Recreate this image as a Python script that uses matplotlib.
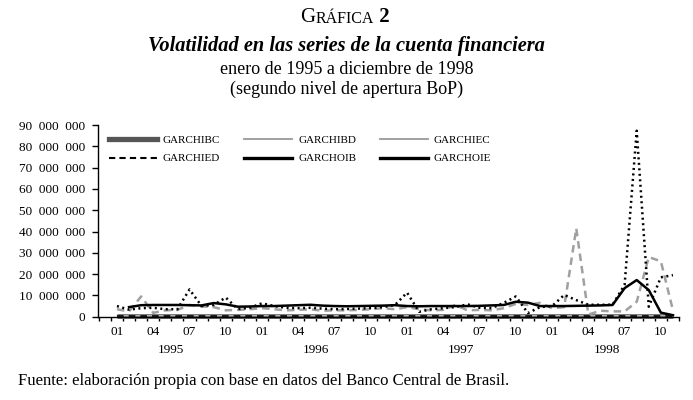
import numpy as np
import matplotlib
matplotlib.use("Agg")
import matplotlib.pyplot as plt
from matplotlib.lines import Line2D

plt.rcParams['font.family'] = ['Liberation Serif', 'DejaVu Serif']

# months from 01/1995 on, values in millions
month_labels = ['01', '04', '07', '10'] * 4
years = ['1995', '1996', '1997', '1998']
yticks = [0, 10, 20, 30, 40, 50, 60, 70, 80, 90]

garchibc = [0.4, 0.4, 0.4, 0.4, 0.4, 0.4, 0.4, 0.4, 0.4, 0.4, 0.4, 0.4,
            0.4, 0.4, 0.4, 0.4, 0.4, 0.4, 0.4, 0.4, 0.4, 0.4, 0.4, 0.4,
            0.4, 0.4, 0.4, 0.4, 0.4, 0.4, 0.4, 0.4, 0.4, 0.4, 0.4, 0.4,
            0.4, 0.4, 0.4, 0.4, 0.4, 0.4, 0.4, 0.4, 0.4, 0.4, 0.4]
garchibd = [0.9, 0.9, 0.9, 0.9, 0.9, 0.9, 0.9, 0.9, 0.9, 0.9, 0.9, 0.9,
            0.9, 0.9, 0.9, 0.9, 0.9, 0.9, 0.9, 0.9, 0.9, 0.9, 0.9, 0.9,
            0.9, 0.9, 0.9, 0.9, 0.9, 0.9, 0.9, 0.9, 0.9, 0.9, 0.9, 0.9,
            0.9, 0.9, 0.9, 0.9, 0.9, 0.9, 0.9, 0.9, 0.9, 0.9, 0.9]
garchied = [0.2, 0.2, 0.2, 0.2, 0.2, 0.2, 0.2, 0.2, 0.2, 0.2, 0.2, 0.2,
            0.2, 0.2, 0.2, 0.2, 0.2, 0.2, 0.2, 0.2, 0.2, 0.2, 0.2, 0.2,
            0.2, 0.2, 0.2, 0.2, 0.2, 0.2, 0.2, 0.2, 0.2, 0.2, 0.2, 0.2,
            0.2, 0.2, 0.2, 0.2, 0.2, 0.2, 0.2, 0.2, 0.2, 0.2, 0.2]
garchiec = [3.5, 2.5, 9.5, 1.8, 3.0, 3.2, 5.5, 4.8, 4.5, 3.0, 3.2, 3.5,
            4.0, 3.5, 3.0, 3.2, 3.5, 2.8, 3.0, 3.0, 3.2, 3.5, 4.0, 3.5,
            4.5, 3.5, 3.0, 3.2, 5.5, 3.0, 3.2, 3.0, 4.0, 6.0, 5.5, 6.5,
            4.0, 4.5, 41.5, 1.0, 2.8, 2.5, 2.5, 7.0, 28.0, 26.0, 3.0]
garchoib = [5.0, 3.3, 4.0, 4.2, 3.5, 3.5, 12.8, 5.0, 5.5, 9.0, 3.6, 4.2,
            6.3, 5.0, 4.2, 4.0, 4.2, 3.8, 3.5, 3.6, 3.8, 4.0, 4.5, 5.5,
            11.3, 2.3, 3.5, 4.0, 4.5, 5.8, 4.2, 4.0, 6.5, 9.5, 1.7, 4.5,
            5.0, 10.2, 7.8, 5.6, 5.6, 5.6, 15.0, 87.3, 4.7, 18.5, 19.5]
garchoie = [np.nan, 4.5, 5.4, 5.5, 5.5, 5.5, 5.4, 5.3, 6.4, 5.8, 4.7, 4.8,
            5.0, 5.0, 5.2, 5.4, 5.6, 5.2, 5.0, 4.9, 5.0, 5.1, 5.2, 5.4,
            5.0, 4.9, 5.0, 5.0, 5.0, 5.0, 5.1, 5.3, 5.5, 7.0, 6.6, 5.0,
            5.0, 5.0, 5.1, 5.2, 5.3, 5.5, 13.4, 17.2, 12.5, 1.9, 0.7]

x = np.arange(len(garchoib))

W, H = 693, 400
fig = plt.figure(figsize=(W / 100, H / 100), dpi=100)
ax = fig.add_axes([98 / W, 1 - 316.7 / H, (679 - 98) / W, (316.7 - 125) / H])

ax.plot(x, garchibc, color='#707070', lw=3.6, solid_capstyle='butt', clip_on=False)
ax.plot(x, garchibd, color='#b4b4b4', lw=1.0, clip_on=False)
ax.plot(x, garchied, color='black', lw=1.2, ls=(0, (4, 3)), clip_on=False)
ax.plot(x, garchiec, color='#a0a0a0', lw=1.8, ls=(0, (3, 2)))
ax.plot(x, garchoie, color='black', lw=1.8)
ax.plot(x, garchoib, color='black', lw=1.8, ls=(0, (0.8, 1.4)))

ax.set_xlim(-1.57, 46.48)
ax.set_ylim(0, 90)
for s in ['top', 'right']:
    ax.spines[s].set_visible(False)
ax.spines['left'].set_linewidth(1.0)
ax.spines['bottom'].set_linewidth(1.0)

ax.set_yticks(yticks)
ax.set_yticklabels([f"{v * 1000000:,}".replace(',', '\u2002') for v in yticks])
ax.tick_params(axis='y', length=4.3, width=1, pad=5, labelsize=9.5)

ax.set_xticks(x[::3])
ax.set_xticklabels(month_labels)
ax.set_xticks(np.arange(-1.5, 47, 1.0), minor=True)
ax.tick_params(axis='x', which='major', length=0, pad=7, labelsize=9.5)
ax.tick_params(axis='x', which='minor', length=3, width=1)

for k, yr in enumerate(years):
    ax.text(12 * k + 4.5, -0.174, yr, transform=ax.get_xaxis_transform(),
            ha='center', va='center', fontsize=9.5)

handles = [
    Line2D([], [], color='#555555', lw=3.8),
    Line2D([], [], color='black', lw=1.5, ls=(0, (3, 2))),
    Line2D([], [], color='#999999', lw=1.3),
    Line2D([], [], color='black', lw=2.4),
    Line2D([], [], color='#999999', lw=1.3),
    Line2D([], [], color='black', lw=2.4),
]
labels = ['GARCHIBC', 'GARCHIED', 'GARCHIBD', 'GARCHOIB', 'GARCHIEC', 'GARCHOIE']
ax.legend(handles, labels, ncol=3, loc='upper left', frameon=False,
          bbox_to_anchor=(109 / W, 1 - 135 / H), bbox_transform=fig.transFigure,
          borderpad=0, borderaxespad=0, fontsize=8, handlelength=4.3,
          handletextpad=0.55, columnspacing=2.15, labelspacing=0.8)

# titles
t1 = fig.text(300 / W, 1 - 22 / H, 'G', fontsize=15, ha='left', va='baseline')
t2 = ax.annotate('RÁFICA', xy=(1, 0), xycoords=t1, va='bottom', fontsize=11.5)
ax.annotate(' 2', xy=(1, 0), xycoords=t2, va='bottom', fontsize=15, fontweight='bold')
fig.text(0.5, 1 - 46 / H, 'Volatilidad en las series de la cuenta financiera',
         ha='center', va='center', fontsize=14.7, fontweight='bold', style='italic')
fig.text(0.5, 1 - 69 / H, 'enero de 1995 a diciembre de 1998',
         ha='center', va='center', fontsize=13)
fig.text(0.5, 1 - 89 / H, '(segundo nivel de apertura BoP)',
         ha='center', va='center', fontsize=13)
fig.text(18 / W, 1 - 381 / H,
         'Fuente: elaboración propia con base en datos del Banco Central de Brasil.',
         ha='left', va='center', fontsize=12)

fig.savefig('out.png', dpi=100)
